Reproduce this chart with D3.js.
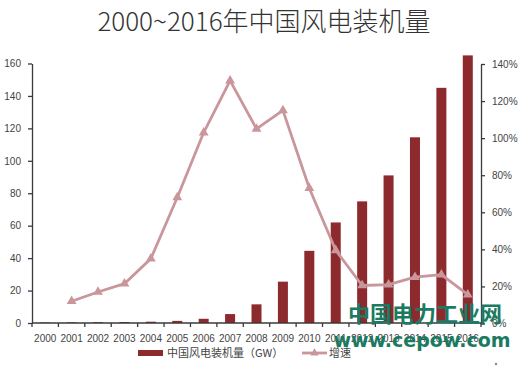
<!DOCTYPE html>
<html>
<head>
<meta charset="utf-8">
<script src="https://cdn.jsdelivr.net/npm/d3@7"></script>
<style>
	body { margin: 0; background: #fff; }
	svg { display: block; }
	.axis text { font-family: "Liberation Sans", Arial, sans-serif; font-size: 10px; fill: #444; }
	.axis path, .axis line { stroke: #3a3a3a; stroke-width: 1.3; }
</style>
</head>
<body>
<svg id="chart" width="528" height="369"></svg>
<script>
// data
var years = ["2000", "2001", "2002", "2003", "2004", "2005", "2006", "2007", "2008",
	"2009", "2010", "2011", "2012", "2013", "2014", "2015", "2016"];
var capacity = [0.3, 0.4, 0.5, 0.6, 0.8, 1.3, 2.6, 5.5, 11.5, 25.5, 44.5, 62, 75, 91, 114.5, 145, 165];
var growth = [null, 12, 17, 21.5, 35, 68, 103, 131, 105, 115, 73, 39.5, 20.5, 21, 25, 26.4, 15.6];
var leftTicks = [0, 20, 40, 60, 80, 100, 120, 140, 160];
var rightTicks = [0, 20, 40, 60, 80, 100, 120, 140];

var svg = d3.select("#chart"),
	plotLeft = 32,
	plotRight = 481,
	plotTop = 63.5,
	plotBottom = 323,
	barColor = "#8c2a2e",
	lineColor = "#c9969b";

var x = d3.scaleBand().domain(years).range([plotLeft, plotRight]).paddingInner(0).paddingOuter(0),
	yL = d3.scaleLinear().domain([0, 160]).range([plotBottom, plotTop]),
	yR = d3.scaleLinear().domain([0, 140]).range([plotBottom + 0.5, plotTop + 0.5]);

// title
svg.append("text")
	.attr("x", 264).attr("y", 31)
	.attr("text-anchor", "middle")
	.style("font-family", "'Noto Sans CJK SC', sans-serif")
	.style("font-weight", 300)
	.style("font-size", "26px")
	.style("fill", "#333")
	.text("2000~2016年中国风电装机量");

// bars
var bw = 10;
svg.selectAll(".bar").data(capacity).enter().append("rect")
	.attr("class", "bar")
	.attr("x", function(d, i) { return x(years[i]) + x.bandwidth() / 2 - bw / 2; })
	.attr("y", function(d) { return yL(d); })
	.attr("width", bw)
	.attr("height", function(d) { return plotBottom - yL(d); })
	.attr("fill", barColor);

// growth line
var pts = growth.map(function(d, i) { return {year: years[i], v: d}; })
	.filter(function(d) { return d.v !== null; });

var line = d3.line()
	.x(function(d) { return x(d.year) + x.bandwidth() / 2; })
	.y(function(d) { return yR(d.v); });

svg.append("path").datum(pts)
	.attr("d", line)
	.attr("fill", "none")
	.attr("stroke", lineColor)
	.attr("stroke-width", 2.8)
	.attr("stroke-linejoin", "round");

svg.selectAll(".marker").data(pts).enter().append("path")
	.attr("class", "marker")
	.attr("d", d3.symbol().type(d3.symbolTriangle).size(42))
	.attr("transform", function(d) { return "translate(" + (x(d.year) + x.bandwidth() / 2) + "," + yR(d.v) + ")"; })
	.attr("fill", lineColor);

// axes
var xAxis = svg.append("g").attr("class", "axis")
	.attr("transform", "translate(0," + plotBottom + ")")
	.call(d3.axisBottom(x).tickSize(0).tickPadding(12));
xAxis.select(".domain").attr("d", "M" + plotLeft + ",0H" + plotRight);
xAxis.selectAll(".bound").data(years.concat(["end"])).enter().append("line")
	.attr("x1", function(d, i) { return plotLeft + i * x.bandwidth(); })
	.attr("x2", function(d, i) { return plotLeft + i * x.bandwidth(); })
	.attr("y1", 0).attr("y2", 4);

svg.append("g").attr("class", "axis")
	.attr("transform", "translate(" + plotLeft + ",0)")
	.call(d3.axisLeft(yL).tickValues(leftTicks).tickSize(4).tickSizeOuter(0).tickPadding(7));

svg.append("g").attr("class", "axis")
	.attr("transform", "translate(" + plotRight + ",0)")
	.call(d3.axisRight(yR).tickValues(rightTicks).tickSize(4).tickSizeOuter(0).tickPadding(7)
		.tickFormat(function(d) { return d + "%"; }));

// legend
var lg = svg.append("g")
	.style("font-family", "'Noto Sans CJK SC', sans-serif")
	.style("font-size", "11px")
	.style("fill", "#444");
lg.append("rect").attr("x", 138).attr("y", 350).attr("width", 25).attr("height", 6).attr("fill", barColor);
lg.append("text").attr("x", 167).attr("y", 357).text("中国风电装机量（GW）");
lg.append("line").attr("x1", 302).attr("x2", 327).attr("y1", 353).attr("y2", 353)
	.attr("stroke", lineColor).attr("stroke-width", 2.8);
lg.append("path").attr("d", d3.symbol().type(d3.symbolTriangle).size(30))
	.attr("transform", "translate(314.5,353)").attr("fill", lineColor);
lg.append("text").attr("x", 329).attr("y", 357).text("增速");

// watermark
var wm = svg.append("g")
	.style("font-family", "'Noto Sans CJK SC', sans-serif")
	.style("font-weight", 700)
	.style("fill", "#1b7a62");
wm.append("text").attr("x", 425).attr("y", 322).attr("text-anchor", "middle")
	.style("font-size", "22px").text("中国电力工业网");
wm.append("text").attr("x", 422).attr("y", 347).attr("text-anchor", "middle")
	.style("font-family", "'DejaVu Sans', sans-serif")
	.style("font-size", "19px").text("www.cepow.com");
svg.append("circle").attr("cx", 496).attr("cy", 364).attr("r", 1.2).attr("fill", "#888");
</script>
</body>
</html>
